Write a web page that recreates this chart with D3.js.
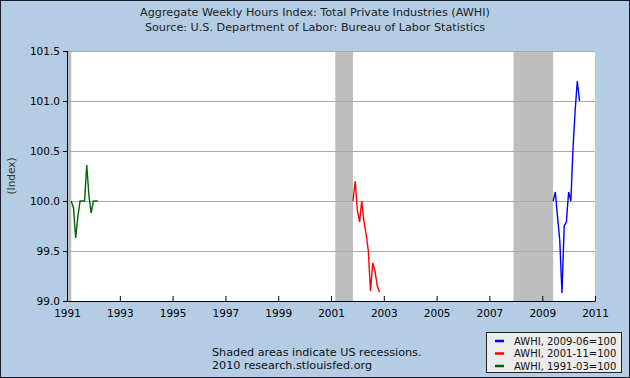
<!DOCTYPE html>
<html><head><meta charset="utf-8">
<script src="https://cdn.jsdelivr.net/npm/d3@7"></script>
<style>body{margin:0;padding:0;background:#fff}svg{display:block}</style>
</head><body>
<svg id="chart" width="630" height="378"></svg>
<script>
// ---- data ----
const titleLines = ["Aggregate Weekly Hours Index: Total Private Industries (AWHI)",
                    "Source: U.S. Department of Labor: Bureau of Labor Statistics"];
const yTicks = [99.0, 99.5, 100.0, 100.5, 101.0, 101.5];
const xTickYears = [1991, 1993, 1995, 1997, 1999, 2001, 2003, 2005, 2007, 2009, 2011];
const recessionStarts = ["1990-07", "2001-03", "2007-12"];
const recessionEnds   = ["1991-03", "2001-11", "2009-06"];
const seriesNames = ["AWHI, 2009-06=100", "AWHI, 2001-11=100", "AWHI, 1991-03=100"];
const seriesStarts = ["2009-06", "2001-11", "1991-03"];
const blueValues  = [100.0, 100.09, 99.84, 99.6, 99.08, 99.75, 99.79, 100.09, 100.0, 100.5, 100.9, 101.2, 101.0];
const redValues   = [100.0, 100.2, 99.9, 99.79, 100.0, 99.8, 99.67, 99.5, 99.1, 99.38, 99.3, 99.16, 99.09];
const greenValues = [100.0, 99.93, 99.63, 99.85, 100.0, 100.0, 100.0, 100.36, 100.05, 99.88, 100.0, 100.0, 100.0];
const seriesColors = ["#0000ff", "#ff0000", "#006400"];

// ---- layout ----
const W = 630, H = 378;
const plot = {left: 67, right: 595, top: 51, bottom: 301};
const parse = d3.timeParse("%Y-%m");
const svg = d3.select("#chart");
const font = "DejaVu Sans, Verdana, sans-serif";

svg.append("rect").attr("x", 0.5).attr("y", 0.5).attr("width", W - 1).attr("height", H - 1)
  .attr("fill", "#b4cce4").attr("stroke", "#1a1a2a");

const x = d3.scaleTime().domain([new Date(1991, 0, 1), new Date(2011, 0, 1)]).range([plot.left, plot.right]);
const y = d3.scaleLinear().domain([99.0, 101.5]).range([plot.bottom, plot.top]);

// plot background
svg.append("rect").attr("x", plot.left).attr("y", plot.top)
  .attr("width", plot.right - plot.left).attr("height", plot.bottom - plot.top).attr("fill", "#ffffff");

svg.append("clipPath").attr("id", "clip").append("rect")
  .attr("x", plot.left).attr("y", plot.top).attr("width", plot.right - plot.left).attr("height", plot.bottom - plot.top);

const g = svg.append("g").attr("clip-path", "url(#clip)");

// recessions
const rec = recessionStarts.map((s, i) => ({s: parse(s), e: parse(recessionEnds[i])}));
g.selectAll("rect.rec").data(rec).enter().append("rect").attr("class", "rec")
  .attr("x", d => x(d.s)).attr("width", d => x(d.e) - x(d.s))
  .attr("y", plot.top).attr("height", plot.bottom - plot.top).attr("fill", "#bebebe");

// gridlines
g.selectAll("line.grid").data(yTicks.slice(1)).enter().append("line")
  .attr("x1", plot.left).attr("x2", plot.right)
  .attr("y1", d => Math.round(y(d)) + 0.5).attr("y2", d => Math.round(y(d)) + 0.5)
  .attr("stroke", "#aaaaaa").attr("stroke-width", 1);

// series
const allValues = [blueValues, redValues, greenValues];
const line = d3.line().x(d => x(d.date)).y(d => y(d.value));
allValues.forEach((vals, i) => {
  const start = parse(seriesStarts[i]);
  const pts = vals.map((v, k) => ({date: d3.timeMonth.offset(start, k), value: v}));
  g.append("path").datum(pts).attr("d", line).attr("fill", "none")
    .attr("stroke", seriesColors[i]).attr("stroke-width", 1.4).attr("stroke-linejoin", "miter");
});

// axes
const yAxis = d3.axisLeft(y).tickValues(yTicks).tickFormat(d3.format(".1f")).tickSize(4).tickPadding(3);
const ya = svg.append("g").attr("transform", `translate(${plot.left},0)`).call(yAxis);
ya.select(".domain").attr("d", `M0.5,${plot.top}V${plot.bottom + 0.5}`).attr("stroke", "#000");
ya.selectAll(".tick line").attr("stroke", "#000").attr("x1", 0);
ya.selectAll(".tick text").attr("font-family", font).attr("font-size", 10.5).attr("fill", "#000");

const xAxis = d3.axisBottom(x).tickValues(xTickYears.map(yr => new Date(yr, 0, 1)))
  .tickFormat(d3.timeFormat("%Y")).tickSize(-5).tickPadding(9);
const xa = svg.append("g").attr("transform", `translate(0,${plot.bottom})`).call(xAxis);
xa.select(".domain").attr("d", `M${plot.left},0.5H${plot.right + 0.5}`).attr("stroke", "#000");
xa.selectAll(".tick line").attr("stroke", "#000");
xa.selectAll(".tick text").attr("font-family", font).attr("font-size", 10.5).attr("fill", "#000");

// y label
svg.append("text").attr("transform", `translate(15,${(plot.top + plot.bottom) / 2}) rotate(-90)`)
  .attr("text-anchor", "middle").attr("font-family", font).attr("font-size", 10.5).attr("fill", "#333")
  .text("(Index)");

// titles
titleLines.forEach((t, i) => {
  svg.append("text").attr("x", 315).attr("y", 16 + i * 14.5).attr("text-anchor", "middle")
    .attr("font-family", font).attr("font-size", 11.2).attr("fill", "#222").text(t);
});

// footnotes
svg.append("text").attr("x", 212).attr("y", 356).attr("font-family", font).attr("font-size", 11.2)
  .attr("fill", "#111").text("Shaded areas indicate US recessions.");
svg.append("text").attr("x", 212).attr("y", 369).attr("font-family", font).attr("font-size", 11.2)
  .attr("fill", "#111").text("2010 research.stlouisfed.org");

// legend
const lg = svg.append("g");
lg.append("rect").attr("x", 486.5).attr("y", 332.5).attr("width", 135).attr("height", 40)
  .attr("fill", "#ececec").attr("stroke", "#222");
seriesNames.forEach((n, i) => {
  const yy = 341 + i * 12.5;
  lg.append("line").attr("x1", 495).attr("x2", 504).attr("y1", yy).attr("y2", yy)
    .attr("stroke", seriesColors[i]).attr("stroke-width", 2.5);
  lg.append("text").attr("x", 514).attr("y", yy + 3.5).attr("font-family", font).attr("font-size", 10)
    .attr("fill", "#111").text(n);
});
</script>
</body></html>
